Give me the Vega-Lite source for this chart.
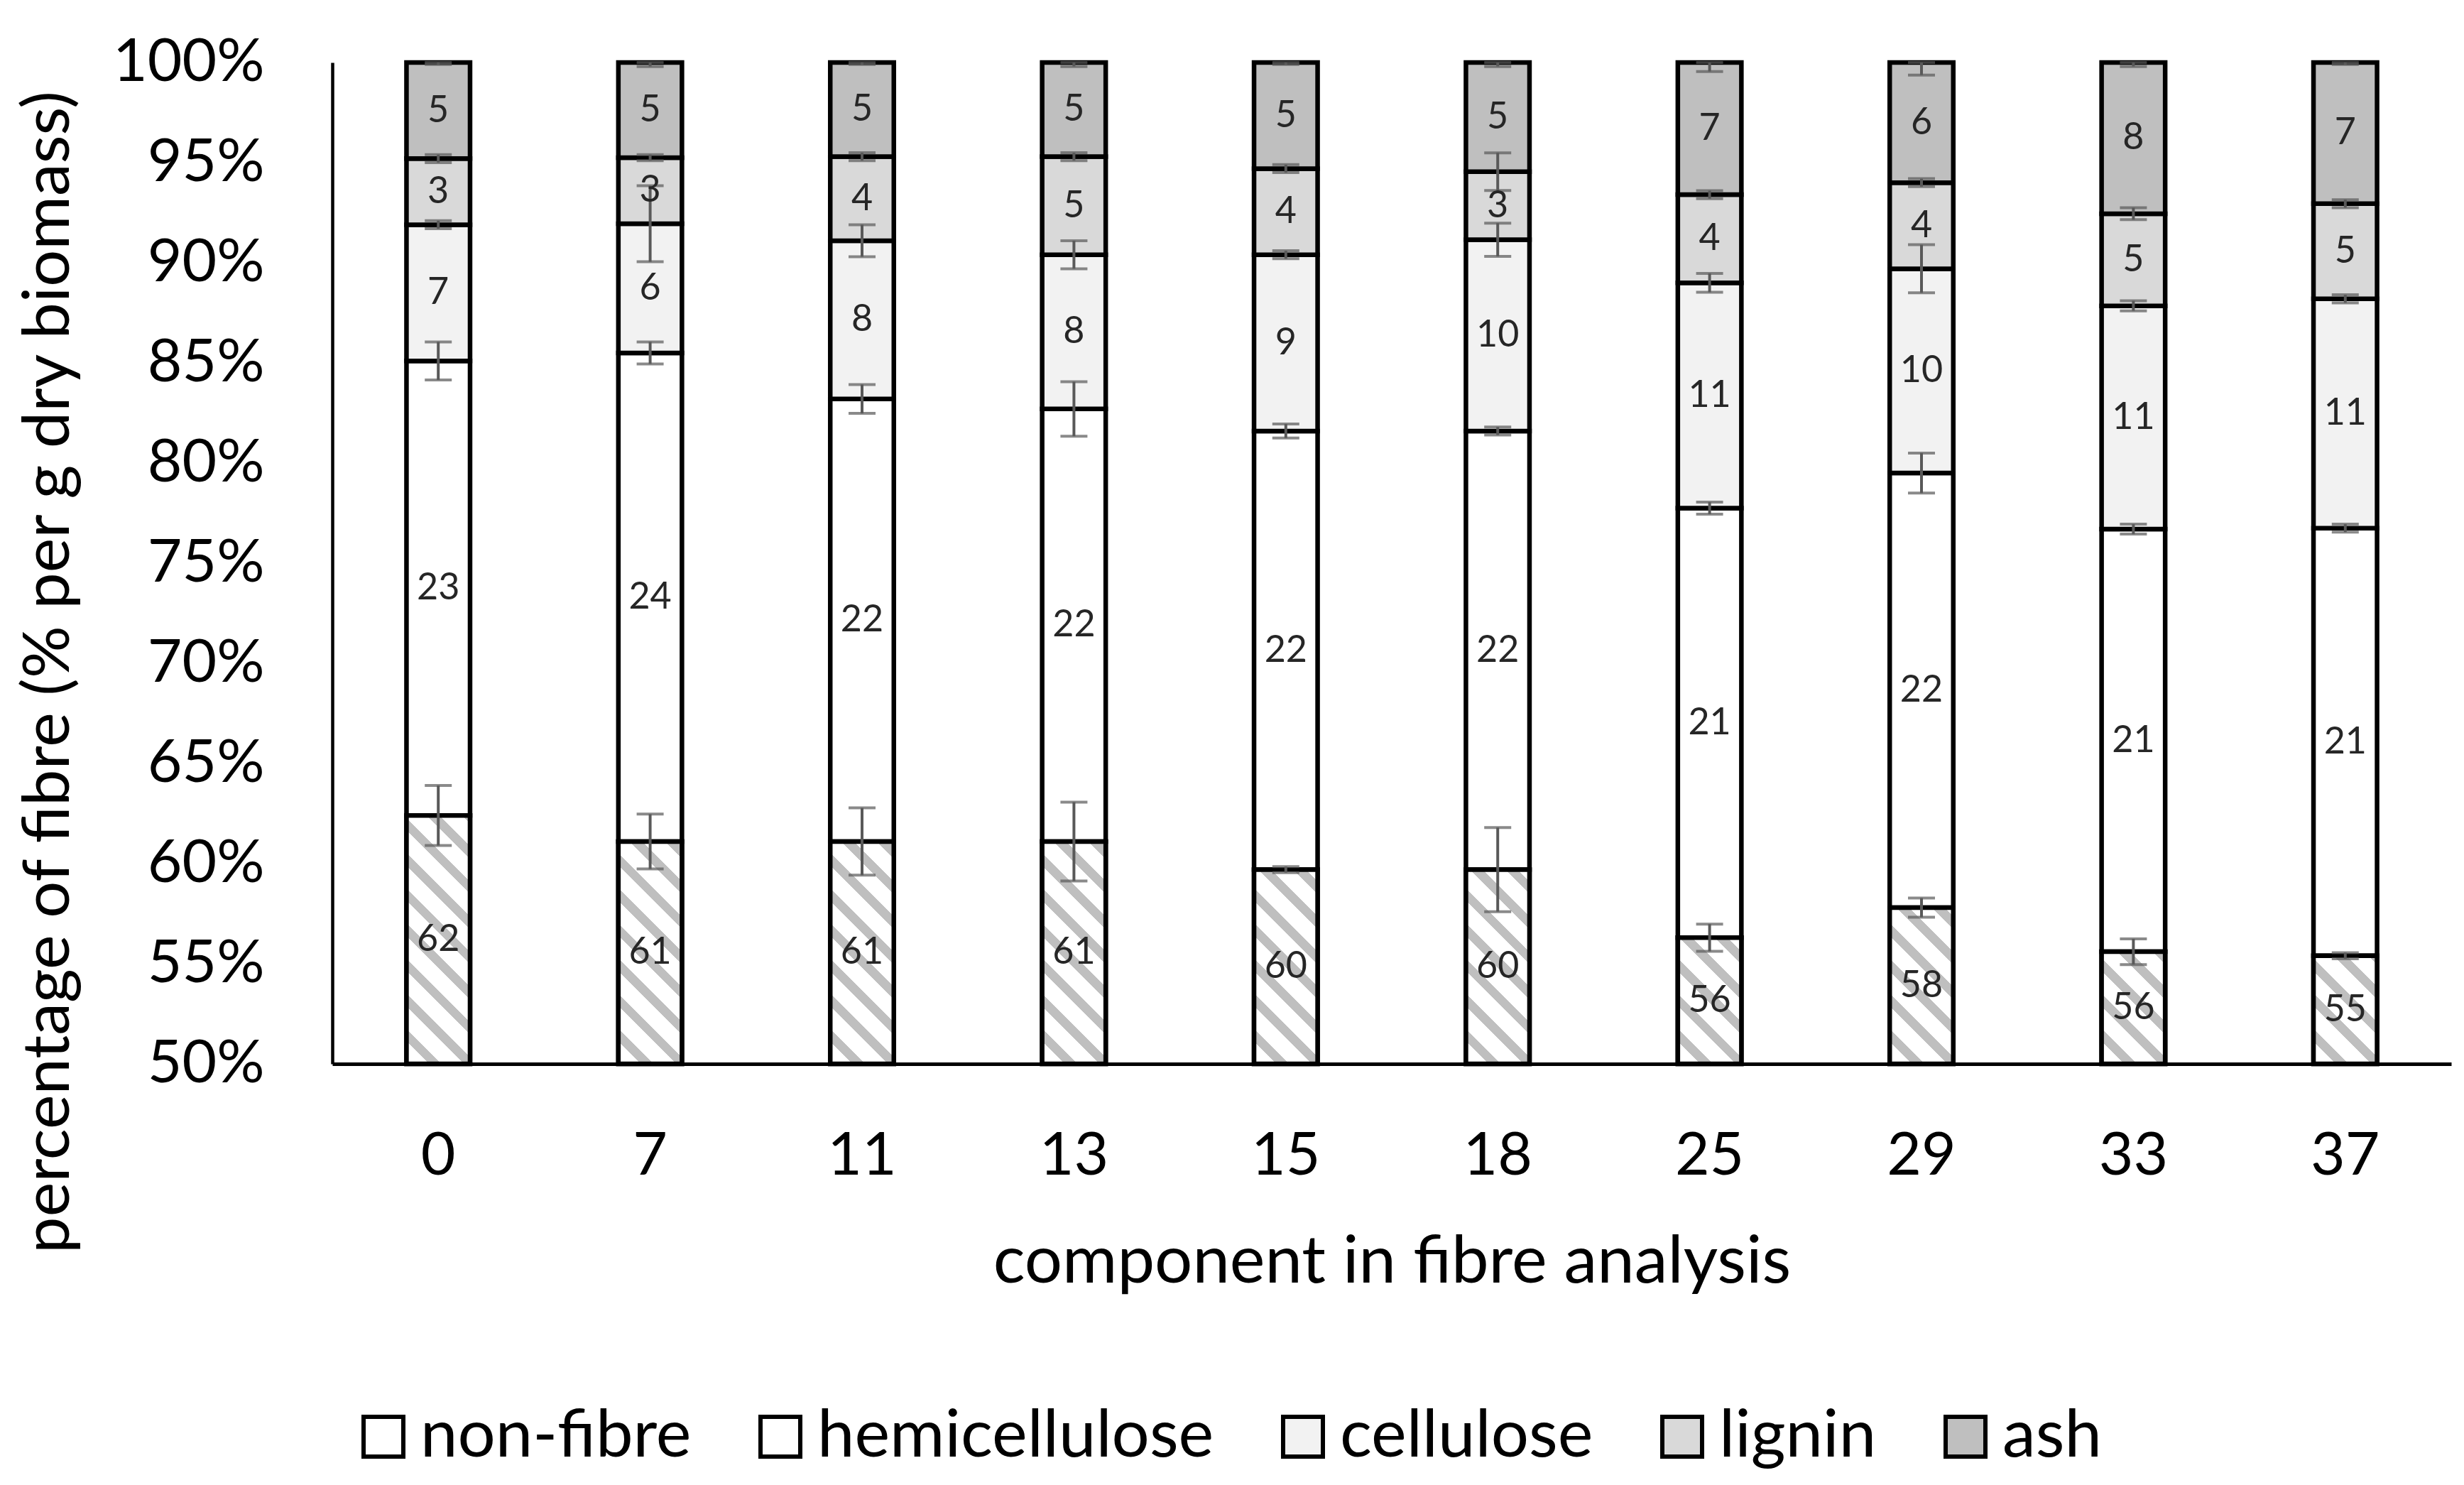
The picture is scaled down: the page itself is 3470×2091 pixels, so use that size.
{
  "$schema": "https://vega.github.io/schema/vega-lite/v6.json",
  "width": 2984,
  "height": 1410,
  "autosize": {"type": "none"},
  "padding": {"left": 468, "top": 88, "right": 18, "bottom": 593},
  "background": "white",
  "config": {"view": {"stroke": null}, "font": "Lato"},
  "data": {"values": [
    {"t": 0, "component": "non-fibre", "amount": 62.4, "err": 1.5},
    {"t": 0, "component": "hemicellulose", "amount": 22.7, "err": 0.95},
    {"t": 0, "component": "cellulose", "amount": 6.8, "err": 0.2},
    {"t": 0, "component": "lignin", "amount": 3.3, "err": 0.2},
    {"t": 0, "component": "ash", "amount": 4.8, "err": 0.1},
    {"t": 7, "component": "non-fibre", "amount": 61.1, "err": 1.37},
    {"t": 7, "component": "hemicellulose", "amount": 24.4, "err": 0.55},
    {"t": 7, "component": "cellulose", "amount": 6.45, "err": 1.9},
    {"t": 7, "component": "lignin", "amount": 3.3, "err": 0.15},
    {"t": 7, "component": "ash", "amount": 4.75, "err": 0.2},
    {"t": 11, "component": "non-fibre", "amount": 61.1, "err": 1.68},
    {"t": 11, "component": "hemicellulose", "amount": 22.1, "err": 0.72},
    {"t": 11, "component": "cellulose", "amount": 7.9, "err": 0.8},
    {"t": 11, "component": "lignin", "amount": 4.2, "err": 0.2},
    {"t": 11, "component": "ash", "amount": 4.7, "err": 0.1},
    {"t": 13, "component": "non-fibre", "amount": 61.1, "err": 1.97},
    {"t": 13, "component": "hemicellulose", "amount": 21.6, "err": 1.36},
    {"t": 13, "component": "cellulose", "amount": 7.7, "err": 0.7},
    {"t": 13, "component": "lignin", "amount": 4.9, "err": 0.2},
    {"t": 13, "component": "ash", "amount": 4.7, "err": 0.2},
    {"t": 15, "component": "non-fibre", "amount": 59.7, "err": 0.15},
    {"t": 15, "component": "hemicellulose", "amount": 21.9, "err": 0.35},
    {"t": 15, "component": "cellulose", "amount": 8.8, "err": 0.2},
    {"t": 15, "component": "lignin", "amount": 4.3, "err": 0.2},
    {"t": 15, "component": "ash", "amount": 5.3, "err": 0.1},
    {"t": 18, "component": "non-fibre", "amount": 59.7, "err": 2.1},
    {"t": 18, "component": "hemicellulose", "amount": 21.9, "err": 0.2},
    {"t": 18, "component": "cellulose", "amount": 9.55, "err": 0.83},
    {"t": 18, "component": "lignin", "amount": 3.4, "err": 0.94},
    {"t": 18, "component": "ash", "amount": 5.45, "err": 0.2},
    {"t": 25, "component": "non-fibre", "amount": 56.3, "err": 0.68},
    {"t": 25, "component": "hemicellulose", "amount": 21.45, "err": 0.3},
    {"t": 25, "component": "cellulose", "amount": 11.25, "err": 0.47},
    {"t": 25, "component": "lignin", "amount": 4.4, "err": 0.2},
    {"t": 25, "component": "ash", "amount": 6.6, "err": 0.45},
    {"t": 29, "component": "non-fibre", "amount": 57.8, "err": 0.48},
    {"t": 29, "component": "hemicellulose", "amount": 21.7, "err": 1.0},
    {"t": 29, "component": "cellulose", "amount": 10.2, "err": 1.2},
    {"t": 29, "component": "lignin", "amount": 4.3, "err": 0.2},
    {"t": 29, "component": "ash", "amount": 6.0, "err": 0.63},
    {"t": 33, "component": "non-fibre", "amount": 55.6, "err": 0.64},
    {"t": 33, "component": "hemicellulose", "amount": 21.1, "err": 0.25},
    {"t": 33, "component": "cellulose", "amount": 11.15, "err": 0.25},
    {"t": 33, "component": "lignin", "amount": 4.6, "err": 0.3},
    {"t": 33, "component": "ash", "amount": 7.55, "err": 0.2},
    {"t": 37, "component": "non-fibre", "amount": 55.4, "err": 0.15},
    {"t": 37, "component": "hemicellulose", "amount": 21.35, "err": 0.2},
    {"t": 37, "component": "cellulose", "amount": 11.45, "err": 0.2},
    {"t": 37, "component": "lignin", "amount": 4.75, "err": 0.2},
    {"t": 37, "component": "ash", "amount": 7.05, "err": 0.1}
  ]},
  "transform": [{"stack": "amount", "groupby": ["t"], "as": ["y0", "y1"]}],
  "encoding": {
    "x": {
      "field": "t", "type": "ordinal",
      "scale": {"paddingInner": 0.7, "paddingOuter": 0.35},
      "axis": {
        "title": "component in fibre analysis", "labelAngle": 0,
        "domainColor": "black", "domainWidth": 5, "ticks": false, "tickSize": 0,
        "labelFont": "Lato", "labelFontSize": 84, "labelColor": "black", "labelPadding": 89,
        "titleFont": "Lato", "titleFontSize": 94, "titleFontWeight": "normal", "titleColor": "black",
        "titleY": 307, "titleBaseline": "alphabetic"
      }
    }
  },
  "layer": [
    {
      "mark": {"type": "bar", "stroke": "black", "strokeWidth": 6.5},
      "encoding": {
        "y": {
          "field": "y0", "type": "quantitative", "title": "percentage of fibre (% per g dry biomass)",
          "scale": {"domain": [50, 100], "clamp": true, "nice": false, "zero": false},
          "axis": {
            "values": [50, 55, 60, 65, 70, 75, 80, 85, 90, 95, 100],
            "labelExpr": "datum.value + '%'", "labelLimit": 0,
            "domainColor": "black", "domainWidth": 4.5, "ticks": false, "tickSize": 0, "grid": false,
            "labelFont": "Lato", "labelFontSize": 84, "labelColor": "black", "labelPadding": 96,
            "titleFont": "Lato", "titleFontSize": 92, "titleFontWeight": "normal", "titleColor": "black",
            "titleX": -400, "titleY": 858, "titleAlign": "center", "titleBaseline": "middle", "titleAngle": -90, "titleLimit": 0
          }
        },
        "y2": {"field": "y1"},
        "fill": {
          "field": "component", "type": "nominal",
          "scale": {"domain": ["non-fibre", "hemicellulose", "cellulose", "lignin", "ash"], "range": ["#FFFFFF", "#FFFFFF", "#F2F2F2", "#D9D9D9", "#BFBFBF"]},
          "legend": {
            "orient": "none", "legendX": 25, "legendY": 1888, "direction": "horizontal", "title": null,
            "symbolType": "square", "symbolSize": 3136, "symbolStrokeColor": "black", "symbolStrokeWidth": 6, "symbolOpacity": 1,
            "labelFont": "Lato", "labelFontSize": 94, "labelColor": "black", "labelOffset": 5, "labelLimit": 0,
            "columnPadding": 78, "padding": 0,
            "encode": {"symbols": {
              "enter": {
                "fill": [
                  {"test": "datum.index === 0 || datum.label === 'non-fibre' || datum.value === 'non-fibre'", "value": {"gradient": "linear", "x1": 0, "y1": 1, "x2": 1, "y2": 0, "stops": [{"offset": 0, "color": "#FFFFFF"}, {"offset": 0.38, "color": "#FFFFFF"}, {"offset": 0.38, "color": "#BFBFBF"}, {"offset": 0.62, "color": "#BFBFBF"}, {"offset": 0.62, "color": "#FFFFFF"}, {"offset": 1, "color": "#FFFFFF"}]}},
                  {"scale": "fill", "field": "value"}
                ],
                "stroke": {"value": "black"}, "strokeWidth": {"value": 6}, "opacity": {"value": 1}
              },
              "update": {
                "fill": [
                  {"test": "datum.index === 0 || datum.label === 'non-fibre' || datum.value === 'non-fibre'", "value": {"gradient": "linear", "x1": 0, "y1": 1, "x2": 1, "y2": 0, "stops": [{"offset": 0, "color": "#FFFFFF"}, {"offset": 0.38, "color": "#FFFFFF"}, {"offset": 0.38, "color": "#BFBFBF"}, {"offset": 0.62, "color": "#BFBFBF"}, {"offset": 0.62, "color": "#FFFFFF"}, {"offset": 1, "color": "#FFFFFF"}]}},
                  {"scale": "fill", "field": "value"}
                ],
                "stroke": {"value": "black"}, "strokeWidth": {"value": 6}, "opacity": {"value": 1}
              }
            }}
          }
        }
      }
    },
    {
      "transform": [{"filter": {"field": "component", "equal": "non-fibre"}}, {"filter": {"field": "t", "oneOf": [0]}}],
      "mark": {"type": "bar", "stroke": "black", "strokeWidth": 6.5, "fill": {"gradient": "linear", "x1": 0, "y1": 1, "x2": 0.3061, "y2": -0.1956, "stops": [
        {"offset": 0, "color": "#FFFFFF"}, {"offset": 0.07111, "color": "#FFFFFF"}, {"offset": 0.07111, "color": "#BFBFBF"}, {"offset": 0.11111, "color": "#BFBFBF"},
        {"offset": 0.11111, "color": "#FFFFFF"}, {"offset": 0.18222, "color": "#FFFFFF"}, {"offset": 0.18222, "color": "#BFBFBF"}, {"offset": 0.22222, "color": "#BFBFBF"},
        {"offset": 0.22222, "color": "#FFFFFF"}, {"offset": 0.29333, "color": "#FFFFFF"}, {"offset": 0.29333, "color": "#BFBFBF"}, {"offset": 0.33333, "color": "#BFBFBF"},
        {"offset": 0.33333, "color": "#FFFFFF"}, {"offset": 0.40444, "color": "#FFFFFF"}, {"offset": 0.40444, "color": "#BFBFBF"}, {"offset": 0.44444, "color": "#BFBFBF"},
        {"offset": 0.44444, "color": "#FFFFFF"}, {"offset": 0.51556, "color": "#FFFFFF"}, {"offset": 0.51556, "color": "#BFBFBF"}, {"offset": 0.55556, "color": "#BFBFBF"},
        {"offset": 0.55556, "color": "#FFFFFF"}, {"offset": 0.62667, "color": "#FFFFFF"}, {"offset": 0.62667, "color": "#BFBFBF"}, {"offset": 0.66667, "color": "#BFBFBF"},
        {"offset": 0.66667, "color": "#FFFFFF"}, {"offset": 0.73778, "color": "#FFFFFF"}, {"offset": 0.73778, "color": "#BFBFBF"}, {"offset": 0.77778, "color": "#BFBFBF"},
        {"offset": 0.77778, "color": "#FFFFFF"}, {"offset": 0.84889, "color": "#FFFFFF"}, {"offset": 0.84889, "color": "#BFBFBF"}, {"offset": 0.88889, "color": "#BFBFBF"},
        {"offset": 0.88889, "color": "#FFFFFF"}, {"offset": 0.96, "color": "#FFFFFF"}, {"offset": 0.96, "color": "#BFBFBF"}, {"offset": 1, "color": "#BFBFBF"}]}},
      "encoding": {"y": {"field": "y0", "type": "quantitative", "title": "percentage of fibre (% per g dry biomass)"}, "y2": {"field": "y1"}}
    },
    {
      "transform": [{"filter": {"field": "component", "equal": "non-fibre"}}, {"filter": {"field": "t", "oneOf": [7, 11, 13]}}],
      "mark": {"type": "bar", "stroke": "black", "strokeWidth": 6.5, "fill": {"gradient": "linear", "x1": 0, "y1": 1, "x2": 0.3763, "y2": -0.3157, "stops": [
        {"offset": 0, "color": "#FFFFFF"}, {"offset": 0.07111, "color": "#FFFFFF"}, {"offset": 0.07111, "color": "#BFBFBF"}, {"offset": 0.11111, "color": "#BFBFBF"},
        {"offset": 0.11111, "color": "#FFFFFF"}, {"offset": 0.18222, "color": "#FFFFFF"}, {"offset": 0.18222, "color": "#BFBFBF"}, {"offset": 0.22222, "color": "#BFBFBF"},
        {"offset": 0.22222, "color": "#FFFFFF"}, {"offset": 0.29333, "color": "#FFFFFF"}, {"offset": 0.29333, "color": "#BFBFBF"}, {"offset": 0.33333, "color": "#BFBFBF"},
        {"offset": 0.33333, "color": "#FFFFFF"}, {"offset": 0.40444, "color": "#FFFFFF"}, {"offset": 0.40444, "color": "#BFBFBF"}, {"offset": 0.44444, "color": "#BFBFBF"},
        {"offset": 0.44444, "color": "#FFFFFF"}, {"offset": 0.51556, "color": "#FFFFFF"}, {"offset": 0.51556, "color": "#BFBFBF"}, {"offset": 0.55556, "color": "#BFBFBF"},
        {"offset": 0.55556, "color": "#FFFFFF"}, {"offset": 0.62667, "color": "#FFFFFF"}, {"offset": 0.62667, "color": "#BFBFBF"}, {"offset": 0.66667, "color": "#BFBFBF"},
        {"offset": 0.66667, "color": "#FFFFFF"}, {"offset": 0.73778, "color": "#FFFFFF"}, {"offset": 0.73778, "color": "#BFBFBF"}, {"offset": 0.77778, "color": "#BFBFBF"},
        {"offset": 0.77778, "color": "#FFFFFF"}, {"offset": 0.84889, "color": "#FFFFFF"}, {"offset": 0.84889, "color": "#BFBFBF"}, {"offset": 0.88889, "color": "#BFBFBF"},
        {"offset": 0.88889, "color": "#FFFFFF"}, {"offset": 0.96, "color": "#FFFFFF"}, {"offset": 0.96, "color": "#BFBFBF"}, {"offset": 1, "color": "#BFBFBF"}]}},
      "encoding": {"y": {"field": "y0", "type": "quantitative", "title": "percentage of fibre (% per g dry biomass)"}, "y2": {"field": "y1"}}
    },
    {
      "transform": [{"filter": {"field": "component", "equal": "non-fibre"}}, {"filter": {"field": "t", "oneOf": [15, 18]}}],
      "mark": {"type": "bar", "stroke": "black", "strokeWidth": 6.5, "fill": {"gradient": "linear", "x1": 0, "y1": 1, "x2": 0.4816, "y2": -0.4713, "stops": [
        {"offset": 0, "color": "#FFFFFF"}, {"offset": 0.07111, "color": "#FFFFFF"}, {"offset": 0.07111, "color": "#BFBFBF"}, {"offset": 0.11111, "color": "#BFBFBF"},
        {"offset": 0.11111, "color": "#FFFFFF"}, {"offset": 0.18222, "color": "#FFFFFF"}, {"offset": 0.18222, "color": "#BFBFBF"}, {"offset": 0.22222, "color": "#BFBFBF"},
        {"offset": 0.22222, "color": "#FFFFFF"}, {"offset": 0.29333, "color": "#FFFFFF"}, {"offset": 0.29333, "color": "#BFBFBF"}, {"offset": 0.33333, "color": "#BFBFBF"},
        {"offset": 0.33333, "color": "#FFFFFF"}, {"offset": 0.40444, "color": "#FFFFFF"}, {"offset": 0.40444, "color": "#BFBFBF"}, {"offset": 0.44444, "color": "#BFBFBF"},
        {"offset": 0.44444, "color": "#FFFFFF"}, {"offset": 0.51556, "color": "#FFFFFF"}, {"offset": 0.51556, "color": "#BFBFBF"}, {"offset": 0.55556, "color": "#BFBFBF"},
        {"offset": 0.55556, "color": "#FFFFFF"}, {"offset": 0.62667, "color": "#FFFFFF"}, {"offset": 0.62667, "color": "#BFBFBF"}, {"offset": 0.66667, "color": "#BFBFBF"},
        {"offset": 0.66667, "color": "#FFFFFF"}, {"offset": 0.73778, "color": "#FFFFFF"}, {"offset": 0.73778, "color": "#BFBFBF"}, {"offset": 0.77778, "color": "#BFBFBF"},
        {"offset": 0.77778, "color": "#FFFFFF"}, {"offset": 0.84889, "color": "#FFFFFF"}, {"offset": 0.84889, "color": "#BFBFBF"}, {"offset": 0.88889, "color": "#BFBFBF"},
        {"offset": 0.88889, "color": "#FFFFFF"}, {"offset": 0.96, "color": "#FFFFFF"}, {"offset": 0.96, "color": "#BFBFBF"}, {"offset": 1, "color": "#BFBFBF"}]}},
      "encoding": {"y": {"field": "y0", "type": "quantitative", "title": "percentage of fibre (% per g dry biomass)"}, "y2": {"field": "y1"}}
    },
    {
      "transform": [{"filter": {"field": "component", "equal": "non-fibre"}}, {"filter": {"field": "t", "oneOf": [25]}}],
      "mark": {"type": "bar", "stroke": "black", "strokeWidth": 6.5, "fill": {"gradient": "linear", "x1": 0, "y1": 1, "x2": 1.0073, "y2": -0.9996, "stops": [
        {"offset": 0, "color": "#FFFFFF"}, {"offset": 0.07111, "color": "#FFFFFF"}, {"offset": 0.07111, "color": "#BFBFBF"}, {"offset": 0.11111, "color": "#BFBFBF"},
        {"offset": 0.11111, "color": "#FFFFFF"}, {"offset": 0.18222, "color": "#FFFFFF"}, {"offset": 0.18222, "color": "#BFBFBF"}, {"offset": 0.22222, "color": "#BFBFBF"},
        {"offset": 0.22222, "color": "#FFFFFF"}, {"offset": 0.29333, "color": "#FFFFFF"}, {"offset": 0.29333, "color": "#BFBFBF"}, {"offset": 0.33333, "color": "#BFBFBF"},
        {"offset": 0.33333, "color": "#FFFFFF"}, {"offset": 0.40444, "color": "#FFFFFF"}, {"offset": 0.40444, "color": "#BFBFBF"}, {"offset": 0.44444, "color": "#BFBFBF"},
        {"offset": 0.44444, "color": "#FFFFFF"}, {"offset": 0.51556, "color": "#FFFFFF"}, {"offset": 0.51556, "color": "#BFBFBF"}, {"offset": 0.55556, "color": "#BFBFBF"},
        {"offset": 0.55556, "color": "#FFFFFF"}, {"offset": 0.62667, "color": "#FFFFFF"}, {"offset": 0.62667, "color": "#BFBFBF"}, {"offset": 0.66667, "color": "#BFBFBF"},
        {"offset": 0.66667, "color": "#FFFFFF"}, {"offset": 0.73778, "color": "#FFFFFF"}, {"offset": 0.73778, "color": "#BFBFBF"}, {"offset": 0.77778, "color": "#BFBFBF"},
        {"offset": 0.77778, "color": "#FFFFFF"}, {"offset": 0.84889, "color": "#FFFFFF"}, {"offset": 0.84889, "color": "#BFBFBF"}, {"offset": 0.88889, "color": "#BFBFBF"},
        {"offset": 0.88889, "color": "#FFFFFF"}, {"offset": 0.96, "color": "#FFFFFF"}, {"offset": 0.96, "color": "#BFBFBF"}, {"offset": 1, "color": "#BFBFBF"}]}},
      "encoding": {"y": {"field": "y0", "type": "quantitative", "title": "percentage of fibre (% per g dry biomass)"}, "y2": {"field": "y1"}}
    },
    {
      "transform": [{"filter": {"field": "component", "equal": "non-fibre"}}, {"filter": {"field": "t", "oneOf": [29]}}],
      "mark": {"type": "bar", "stroke": "black", "strokeWidth": 6.5, "fill": {"gradient": "linear", "x1": 0, "y1": 1, "x2": 0.7069, "y2": -0.7373, "stops": [
        {"offset": 0, "color": "#FFFFFF"}, {"offset": 0.07111, "color": "#FFFFFF"}, {"offset": 0.07111, "color": "#BFBFBF"}, {"offset": 0.11111, "color": "#BFBFBF"},
        {"offset": 0.11111, "color": "#FFFFFF"}, {"offset": 0.18222, "color": "#FFFFFF"}, {"offset": 0.18222, "color": "#BFBFBF"}, {"offset": 0.22222, "color": "#BFBFBF"},
        {"offset": 0.22222, "color": "#FFFFFF"}, {"offset": 0.29333, "color": "#FFFFFF"}, {"offset": 0.29333, "color": "#BFBFBF"}, {"offset": 0.33333, "color": "#BFBFBF"},
        {"offset": 0.33333, "color": "#FFFFFF"}, {"offset": 0.40444, "color": "#FFFFFF"}, {"offset": 0.40444, "color": "#BFBFBF"}, {"offset": 0.44444, "color": "#BFBFBF"},
        {"offset": 0.44444, "color": "#FFFFFF"}, {"offset": 0.51556, "color": "#FFFFFF"}, {"offset": 0.51556, "color": "#BFBFBF"}, {"offset": 0.55556, "color": "#BFBFBF"},
        {"offset": 0.55556, "color": "#FFFFFF"}, {"offset": 0.62667, "color": "#FFFFFF"}, {"offset": 0.62667, "color": "#BFBFBF"}, {"offset": 0.66667, "color": "#BFBFBF"},
        {"offset": 0.66667, "color": "#FFFFFF"}, {"offset": 0.73778, "color": "#FFFFFF"}, {"offset": 0.73778, "color": "#BFBFBF"}, {"offset": 0.77778, "color": "#BFBFBF"},
        {"offset": 0.77778, "color": "#FFFFFF"}, {"offset": 0.84889, "color": "#FFFFFF"}, {"offset": 0.84889, "color": "#BFBFBF"}, {"offset": 0.88889, "color": "#BFBFBF"},
        {"offset": 0.88889, "color": "#FFFFFF"}, {"offset": 0.96, "color": "#FFFFFF"}, {"offset": 0.96, "color": "#BFBFBF"}, {"offset": 1, "color": "#BFBFBF"}]}},
      "encoding": {"y": {"field": "y0", "type": "quantitative", "title": "percentage of fibre (% per g dry biomass)"}, "y2": {"field": "y1"}}
    },
    {
      "transform": [{"filter": {"field": "component", "equal": "non-fibre"}}, {"filter": {"field": "t", "oneOf": [33]}}],
      "mark": {"type": "bar", "stroke": "black", "strokeWidth": 6.5, "fill": {"gradient": "linear", "x1": 0, "y1": 1, "x2": 1.2105, "y2": -1.1351, "stops": [
        {"offset": 0, "color": "#FFFFFF"}, {"offset": 0.07111, "color": "#FFFFFF"}, {"offset": 0.07111, "color": "#BFBFBF"}, {"offset": 0.11111, "color": "#BFBFBF"},
        {"offset": 0.11111, "color": "#FFFFFF"}, {"offset": 0.18222, "color": "#FFFFFF"}, {"offset": 0.18222, "color": "#BFBFBF"}, {"offset": 0.22222, "color": "#BFBFBF"},
        {"offset": 0.22222, "color": "#FFFFFF"}, {"offset": 0.29333, "color": "#FFFFFF"}, {"offset": 0.29333, "color": "#BFBFBF"}, {"offset": 0.33333, "color": "#BFBFBF"},
        {"offset": 0.33333, "color": "#FFFFFF"}, {"offset": 0.40444, "color": "#FFFFFF"}, {"offset": 0.40444, "color": "#BFBFBF"}, {"offset": 0.44444, "color": "#BFBFBF"},
        {"offset": 0.44444, "color": "#FFFFFF"}, {"offset": 0.51556, "color": "#FFFFFF"}, {"offset": 0.51556, "color": "#BFBFBF"}, {"offset": 0.55556, "color": "#BFBFBF"},
        {"offset": 0.55556, "color": "#FFFFFF"}, {"offset": 0.62667, "color": "#FFFFFF"}, {"offset": 0.62667, "color": "#BFBFBF"}, {"offset": 0.66667, "color": "#BFBFBF"},
        {"offset": 0.66667, "color": "#FFFFFF"}, {"offset": 0.73778, "color": "#FFFFFF"}, {"offset": 0.73778, "color": "#BFBFBF"}, {"offset": 0.77778, "color": "#BFBFBF"},
        {"offset": 0.77778, "color": "#FFFFFF"}, {"offset": 0.84889, "color": "#FFFFFF"}, {"offset": 0.84889, "color": "#BFBFBF"}, {"offset": 0.88889, "color": "#BFBFBF"},
        {"offset": 0.88889, "color": "#FFFFFF"}, {"offset": 0.96, "color": "#FFFFFF"}, {"offset": 0.96, "color": "#BFBFBF"}, {"offset": 1, "color": "#BFBFBF"}]}},
      "encoding": {"y": {"field": "y0", "type": "quantitative", "title": "percentage of fibre (% per g dry biomass)"}, "y2": {"field": "y1"}}
    },
    {
      "transform": [{"filter": {"field": "component", "equal": "non-fibre"}}, {"filter": {"field": "t", "oneOf": [37]}}],
      "mark": {"type": "bar", "stroke": "black", "strokeWidth": 6.5, "fill": {"gradient": "linear", "x1": 0, "y1": 1, "x2": 1.2779, "y2": -1.1741, "stops": [
        {"offset": 0, "color": "#FFFFFF"}, {"offset": 0.07111, "color": "#FFFFFF"}, {"offset": 0.07111, "color": "#BFBFBF"}, {"offset": 0.11111, "color": "#BFBFBF"},
        {"offset": 0.11111, "color": "#FFFFFF"}, {"offset": 0.18222, "color": "#FFFFFF"}, {"offset": 0.18222, "color": "#BFBFBF"}, {"offset": 0.22222, "color": "#BFBFBF"},
        {"offset": 0.22222, "color": "#FFFFFF"}, {"offset": 0.29333, "color": "#FFFFFF"}, {"offset": 0.29333, "color": "#BFBFBF"}, {"offset": 0.33333, "color": "#BFBFBF"},
        {"offset": 0.33333, "color": "#FFFFFF"}, {"offset": 0.40444, "color": "#FFFFFF"}, {"offset": 0.40444, "color": "#BFBFBF"}, {"offset": 0.44444, "color": "#BFBFBF"},
        {"offset": 0.44444, "color": "#FFFFFF"}, {"offset": 0.51556, "color": "#FFFFFF"}, {"offset": 0.51556, "color": "#BFBFBF"}, {"offset": 0.55556, "color": "#BFBFBF"},
        {"offset": 0.55556, "color": "#FFFFFF"}, {"offset": 0.62667, "color": "#FFFFFF"}, {"offset": 0.62667, "color": "#BFBFBF"}, {"offset": 0.66667, "color": "#BFBFBF"},
        {"offset": 0.66667, "color": "#FFFFFF"}, {"offset": 0.73778, "color": "#FFFFFF"}, {"offset": 0.73778, "color": "#BFBFBF"}, {"offset": 0.77778, "color": "#BFBFBF"},
        {"offset": 0.77778, "color": "#FFFFFF"}, {"offset": 0.84889, "color": "#FFFFFF"}, {"offset": 0.84889, "color": "#BFBFBF"}, {"offset": 0.88889, "color": "#BFBFBF"},
        {"offset": 0.88889, "color": "#FFFFFF"}, {"offset": 0.96, "color": "#FFFFFF"}, {"offset": 0.96, "color": "#BFBFBF"}, {"offset": 1, "color": "#BFBFBF"}]}},
      "encoding": {"y": {"field": "y0", "type": "quantitative", "title": "percentage of fibre (% per g dry biomass)"}, "y2": {"field": "y1"}}
    },
    {
      "mark": {"type": "errorbar", "ticks": true, "color": "#595959", "thickness": 4, "size": 38},
      "encoding": {
        "y": {"field": "y1", "type": "quantitative", "title": "percentage of fibre (% per g dry biomass)"},
        "yError": {"field": "err"}
      }
    },
    {
      "transform": [
        {"calculate": "(max(datum.y0, 50) + datum.y1) / 2", "as": "mid"}
      ],
      "mark": {"type": "text", "font": "Lato", "fontSize": 52, "color": "#262626", "baseline": "middle", "align": "center"},
      "encoding": {
        "y": {"field": "mid", "type": "quantitative", "title": "percentage of fibre (% per g dry biomass)"},
        "text": {"field": "amount", "type": "quantitative", "format": ".0f"}
      }
    }
  ]
}
